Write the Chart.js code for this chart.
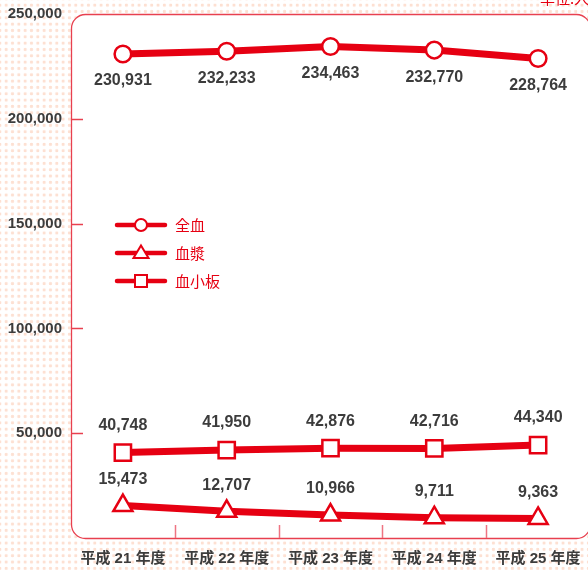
<!DOCTYPE html>
<html>
<head>
<meta charset="utf-8">
<script src="https://cdn.jsdelivr.net/npm/chart.js@4.4.0/dist/chart.umd.min.js"></script>
<style>
  html, body {
    margin: 0;
    padding: 0;
    overflow: hidden;
    width: 588px;
    height: 570px;
  }
  body {
    background-color: #fff;
    background-image: radial-gradient(circle, #fde0d2 1.3px, rgba(255,255,255,0) 1.9px);
    background-size: 6.33px 6.33px;
    background-position: 3px 2px;
  }
  canvas { display: block; }
</style>
</head>
<body>
<canvas id="blood-chart" width="604" height="570"></canvas>
<script>
// data ----------
var years = ['平成21年度', '平成22年度', '平成23年度', '平成24年度', '平成25年度'];
var wholeBlood = [230931, 232233, 234463, 232770, 228764];
var plasma = [15473, 12707, 10966, 9711, 9363];
var platelet = [40748, 41950, 42876, 42716, 44340];
var yTicks = [0, 50000, 100000, 150000, 200000, 250000];
var unitText = '単位:人';

var red = '#e60012';
var frameRed = '#e8404f';
var textGray = '#3c3c3c';

function fmt(v) {
  return v.toLocaleString('en-US');
}

function roundRect(ctx, x, y, w, h, r) {
  ctx.beginPath();
  ctx.moveTo(x + r, y);
  ctx.lineTo(x + w - r, y);
  ctx.arcTo(x + w, y, x + w, y + r, r);
  ctx.lineTo(x + w, y + h - r);
  ctx.arcTo(x + w, y + h, x + w - r, y + h, r);
  ctx.lineTo(x + r, y + h);
  ctx.arcTo(x, y + h, x, y + h - r, r);
  ctx.lineTo(x, y + r);
  ctx.arcTo(x, y, x + r, y, r);
  ctx.closePath();
}

// white rounded panel, frame and tick marks
var framePlugin = {
  id: 'frame',
  beforeDraw: function (chart) {
    var ctx = chart.ctx, a = chart.chartArea;
    var xs = chart.scales.x, ys = chart.scales.y;
    ctx.save();
    roundRect(ctx, a.left + 0.5, a.top + 0.5, a.right - a.left, a.bottom - a.top, 14);
    ctx.fillStyle = '#fff';
    ctx.fill();
    ctx.lineWidth = 1.3;
    ctx.strokeStyle = frameRed;
    ctx.stroke();

    // y tick marks, drawn inward
    ctx.beginPath();
    yTicks.forEach(function (v) {
      if (v === ys.min || v === ys.max) return;
      var py = Math.round(ys.getPixelForValue(v)) + 0.5;
      ctx.moveTo(a.left, py);
      ctx.lineTo(a.left + 12, py);
    });
    ctx.lineWidth = 1.3;
    ctx.strokeStyle = frameRed;
    ctx.stroke();

    // x tick marks between categories
    ctx.beginPath();
    for (var i = 0; i < years.length - 1; i++) {
      var px = Math.round((xs.getPixelForValue(i) + xs.getPixelForValue(i + 1)) / 2) + 0.5;
      ctx.moveTo(px, a.bottom - 13);
      ctx.lineTo(px, a.bottom);
    }
    ctx.strokeStyle = '#ee7482';
    ctx.lineWidth = 1.5;
    ctx.stroke();

    // unit text, top right
    ctx.font = '15px "Noto Sans CJK JP"';
    ctx.fillStyle = red;
    ctx.textAlign = 'left';
    ctx.textBaseline = 'alphabetic';
    ctx.fillText(unitText, 540, 4);
    ctx.restore();
  }
};

// value labels on points
var valuePlugin = {
  id: 'values',
  afterDatasetsDraw: function (chart) {
    var ctx = chart.ctx;
    ctx.save();
    ctx.font = 'bold 16px "Liberation Sans", Arial, sans-serif';
    ctx.fillStyle = textGray;
    ctx.textAlign = 'center';
    ctx.textBaseline = 'middle';
    chart.data.datasets.forEach(function (ds, i) {
      chart.getDatasetMeta(i).data.forEach(function (pt, j) {
        ctx.fillText(fmt(ds.data[j]), pt.x, pt.y + ds.labelOffset);
      });
    });
    ctx.restore();
  }
};

// legend with line + marker
function drawMarker(ctx, style, x, y) {
  ctx.beginPath();
  if (style === 'circle') {
    ctx.arc(x, y, 6, 0, Math.PI * 2);
  } else if (style === 'triangle') {
    ctx.moveTo(x, y - 7.5);
    ctx.lineTo(x + 7.5, y + 5);
    ctx.lineTo(x - 7.5, y + 5);
    ctx.closePath();
  } else {
    ctx.rect(x - 6, y - 6, 12, 12);
  }
  ctx.fillStyle = '#fff';
  ctx.fill();
  ctx.lineWidth = 2;
  ctx.strokeStyle = red;
  ctx.stroke();
}

var legendPlugin = {
  id: 'sideLegend',
  afterDraw: function (chart) {
    var ctx = chart.ctx;
    var order = [0, 2, 1];
    ctx.save();
    order.forEach(function (di, k) {
      var ds = chart.data.datasets[di];
      var y = 225 + k * 28;
      ctx.beginPath();
      ctx.moveTo(117, y);
      ctx.lineTo(165, y);
      ctx.lineWidth = 4.5;
      ctx.lineCap = 'round';
      ctx.strokeStyle = red;
      ctx.stroke();
      drawMarker(ctx, ds.pointStyle, 141, y);
      ctx.font = '15px "Noto Sans CJK JP"';
      ctx.fillStyle = red;
      ctx.textAlign = 'left';
      ctx.textBaseline = 'middle';
      ctx.fillText(ds.label, 175, y);
    });
    ctx.restore();
  }
};

var ctx = document.getElementById('blood-chart').getContext('2d');

new Chart(ctx, {
  type: 'line',
  data: {
    labels: years,
    datasets: [{
      label: '全血',
      data: wholeBlood,
      pointStyle: 'circle',
      pointRadius: 8.3,
      labelOffset: 27
    }, {
      label: '血小板',
      data: platelet,
      pointStyle: 'rect',
      pointRadius: 11.5,
      labelOffset: -27
    }, {
      label: '血漿',
      data: plasma,
      pointStyle: 'triangle',
      pointRadius: 11,
      labelOffset: -26
    }]
  },
  options: {
    responsive: false,
    animation: false,
    devicePixelRatio: 1,
    layout: { padding: { top: 14, right: 10, left: 0, bottom: 0 } },
    elements: {
      line: { borderColor: red, borderWidth: 7, tension: 0, borderCapStyle: 'round' },
      point: { backgroundColor: '#fff', borderColor: red, borderWidth: 2.5, hoverRadius: 8 }
    },
    plugins: {
      legend: { display: false },
      tooltip: { enabled: false }
    },
    scales: {
      x: {
        type: 'category',
        offset: true,
        grid: { display: false, drawTicks: false },
        border: { display: false },
        ticks: {
          color: textGray,
          padding: 12,
          maxRotation: 0,
          autoSkip: false,
          font: { family: '"Liberation Sans", "Noto Sans CJK JP"', size: 15, weight: 'bold' },
          callback: function (v, i) { return years[i].replace(/(\d+)/, ' $1 '); }
        },
        afterFit: function (scale) {
          scale.height = 32;
          scale.paddingLeft = 0;
          scale.paddingRight = 0;
        }
      },
      y: {
        min: 0,
        max: 250000,
        grid: { display: false, drawTicks: false },
        border: { display: false },
        afterBuildTicks: function (scale) {
          scale.ticks = yTicks.map(function (v) { return { value: v }; });
        },
        ticks: {
          color: textGray,
          padding: 9,
          font: { family: '"Liberation Sans", Arial, sans-serif', size: 15, weight: 'bold' },
          callback: function (v) { return v === 0 ? '' : fmt(v); }
        },
        afterFit: function (scale) {
          scale.width = 71;
          scale.paddingTop = 0;
          scale.paddingBottom = 0;
        }
      }
    }
  },
  plugins: [framePlugin, valuePlugin, legendPlugin]
});
</script>
</body>
</html>
